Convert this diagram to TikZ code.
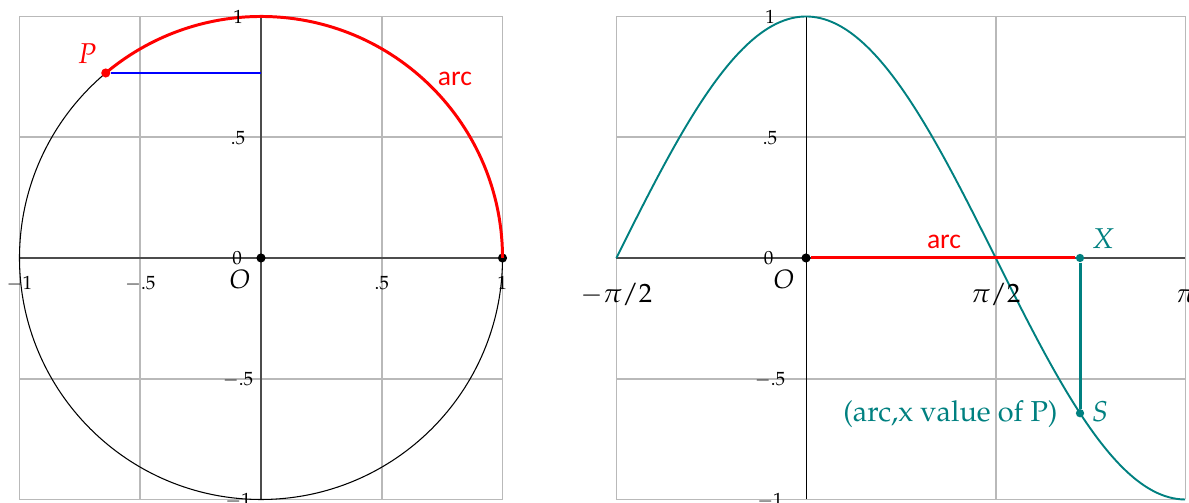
\documentclass[tikz,border=0pt]{standalone}
\usepackage[no-math]{fontspec}
\newfontfamily\arcfont{Carlito}
\usepackage[T1]{fontenc}
\usepackage{mathpazo}
\tikzset{
  gridline/.style={gray!55, line width=0.8pt},
  axisline/.style={black!70, line width=0.9pt},
  ticklbl/.style={font=\fontsize{9}{10}\selectfont, inner sep=0pt, anchor=base},
  biglbl/.style={font=\fontsize{12.5}{14}\selectfont, inner sep=0pt, anchor=base},
  mid/.style={font=\fontsize{13.5}{15}\selectfont, inner sep=0pt, anchor=base},
  arclbl/.style={font=\arcfont\fontsize{13}{15}\selectfont, text=red, inner sep=0pt, anchor=base},
  dot/.style={circle, fill, inner sep=0pt, minimum size=4.3pt},
}
\begin{document}
\begin{tikzpicture}
\useasboundingbox (-4.323,-4.058) rectangle (15.37,4.273);
% ---------------- left panel ----------------
\begin{scope}[x=4cm,y=4cm]
  \draw[gridline] (-1,-1) grid[step=0.5] (1,1);
  \draw[axisline] (-1,0) -- (1,0);
  \draw[axisline] (0,-1) -- (0,1);
  \draw[black, line width=0.5pt] (0,0) circle (1);
  \node[dot] (O1) at (0,0) {};
  \node[dot] (A1) at (1,0) {};
  \node[dot, red] (P) at (130:1) {};
  \coordinate (Py) at (0,{sin(130)});
  \draw[blue, line width=1.2pt] (P) -- (Py);
  \draw[red, line width=1.4pt] (A1.center) arc[start angle=0, end angle=130, radius=1];
  % tick labels
  \node[ticklbl] (lxm1) at (-1,-0.1325) {$-1$};
  \node[ticklbl] (lxm5) at (-0.5,-0.1325) {$-.5$};
  \node[ticklbl] (lx5) at (0.5,-0.1325) {$.5$};
  \node[ticklbl] (lx1) at (1,-0.1325) {$1$};
  \node[ticklbl] (ly1) at (-0.095,0.971) {$1$};
  \node[ticklbl] (ly5) at (-0.095,0.471) {$.5$};
  \node[ticklbl] (ly0) at (-0.099,-0.029) {$0$};
  \node[ticklbl] (lym5) at (-0.095,-0.529) {$-.5$};
  \node[ticklbl] (lym1) at (-0.095,-1.029) {$-1$};
  \node[biglbl] (lO1) at (-0.087,-0.128) {$O$};
  \node[mid, text=red] (lP) at (-0.72,0.807) {$P$};
  \node[arclbl] (larc1) at (0.803,0.716) {arc};
\end{scope}
% ---------------- right panel ----------------
\begin{scope}[xshift=9.027cm, x=2cm, y=4cm]
  \foreach \xx in {-1.5708,1.5708,3.14159}
    \draw[gridline] (\xx,-1) -- (\xx,1);
  \foreach \yy in {-1,-0.5,0.5,1}
    \draw[gridline] (-1.5708,\yy) -- (3.14159,\yy);
  \draw[axisline] (-1.5708,0) -- (3.14159,0);
  \draw[black, line width=0.5pt] (0,-1) -- (0,1);
  \draw[teal, line width=0.9pt] plot[domain=-1.5708:3.14159, samples=140, smooth] (\x,{cos(\x r)});
  \node[dot] (O2) at (0,0) {};
  \node[dot, teal, minimum size=3.9pt] (X) at (2.26893,0) {};
  \node[dot, teal, minimum size=3.9pt] (S) at (2.26893,{cos(130)}) {};
  \draw[red, line width=1.4pt] (O2) -- (X);
  \draw[teal, line width=1.4pt] (X) -- (S);
  % tick labels
  \node[ticklbl] (ry1) at (-0.298,0.971) {$1$};
  \node[ticklbl] (ry5) at (-0.298,0.471) {$.5$};
  \node[ticklbl] (ry0) at (-0.31,-0.029) {$0$};
  \node[ticklbl] (rym5) at (-0.298,-0.529) {$-.5$};
  \node[ticklbl] (rym1) at (-0.298,-1.029) {$-1$};
  \node[biglbl] (rxa) at (-1.5708,-0.186) {$-\pi/2$};
  \node[biglbl] (rxb) at (1.5708,-0.186) {$\pi/2$};
  \node[biglbl] (rxc) at (3.14159,-0.186) {$\pi$};
  \node[biglbl] (lO2) at (-0.182,-0.128) {$O$};
  \node[arclbl] (larc2) at (1.143,0.041) {arc};
  \node[mid, text=teal] (lX) at (2.46,0.041) {$X$};
  \node[mid, text=teal] (lS) at (2.435,-0.679) {$S$};
  \node[font=\fontsize{13.6}{15}\selectfont, inner sep=0pt, anchor=base east, text=teal] (lval) at (2.087,-0.677) {(arc,x value of P)};
\end{scope}
\end{tikzpicture}
\end{document}
